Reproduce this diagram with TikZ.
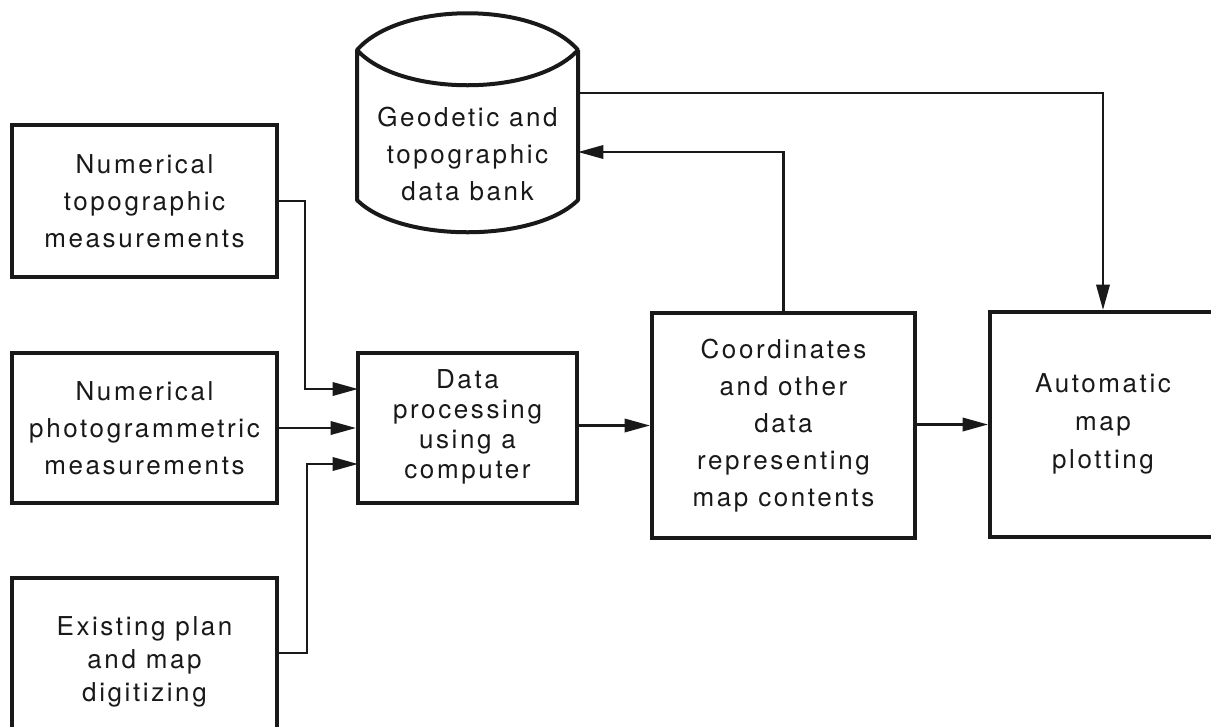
\documentclass[tikz,border=0pt]{standalone}
\usepackage{fontspec}
\setmainfont{TeX Gyre Heros}[LetterSpace=10]
\usetikzlibrary{arrows.meta}
\begin{document}
\begin{tikzpicture}[x=0.75pt,y=-0.75pt,
  boxline/.style={draw=black!90, line width=3pt},
  txt/.style={align=center, font=\fontsize{19.5pt}{27.75pt}\selectfont, text=black!90, inner sep=0pt},
  conn/.style={draw=black!90, line width=1.8pt},
  arr/.style={conn, -{Triangle[length=19pt,width=10pt]}},
]
\useasboundingbox (0,0) rectangle (1211,726);
\clip (0,0) rectangle (1211,726);
% boxes
\node[boxline, minimum width=198.75pt, minimum height=114pt] (b1) at (144.5,201) {};
\node[boxline, minimum width=198.75pt, minimum height=112.5pt] (b2) at (144.5,428) {};
\node[boxline, minimum width=198.75pt, minimum height=126pt] (b3) at (144.5,662) {};
\node[boxline, minimum width=164.25pt, minimum height=112.5pt] (dp) at (467.5,428) {};
\node[boxline, minimum width=197.25pt, minimum height=168.75pt] (co) at (783.5,425.5) {};
\node[boxline, minimum width=169.5pt, minimum height=168.75pt] (au) at (1103,424.5) {};
% cylinder
\draw[boxline, line join=round] (357,50) .. controls (400,1) and (535,1) .. (578,50)
  .. controls (535,97) and (400,97) .. (357,50) -- (357,200)
  .. controls (400,243) and (535,243) .. (578,200) -- (578,50);
% texts
\node[txt] (t1) at (144.5,201) {Numerical\\topographic\\measurements};
\node[txt] (t2) at (144.5,428) {Numerical\\photogrammetric\\measurements};
\node[txt, font=\fontsize{19.5pt}{25pt}\selectfont] (t3) at (144.5,662) {Existing plan\\and map\\digitizing};
\node[txt, font=\fontsize{19.5pt}{22.5pt}\selectfont] (tdp) at (467.5,427) {Data\\processing\\using a\\computer};
\node[txt] (tco) at (783.5,426) {Coordinates\\and other\\data\\representing\\map contents};
\node[txt, font=\fontsize{19.5pt}{28.5pt}\selectfont] (tau) at (1103,424) {Automatic\\map\\plotting};
\node[txt] (tdb) at (467.5,154) {Geodetic and\\topographic\\data bank};
% connector points
\coordinate (b3out) at (277,653);
\coordinate (dpin1) at (358,389);
\coordinate (dpin3) at (358,464);
\coordinate (bend1) at (305,0);
\coordinate (bend3) at (307,0);
\coordinate (dbin) at (578,152);
\coordinate (dbout) at (578,93);
% connectors
\draw[arr] (b1.east) -| (bend1 |- dpin1) -- (dpin1);
\draw[arr] (b2.east) -- (dp.west |- b2.east);
\draw[arr] (b3out) -| (bend3 |- dpin3) -- (dpin3);
\draw[arr] (dp.east |- co.west) -- (co.west);
\draw[arr] (co.east |- au.west) -- (au.west);
\draw[arr] (co.north) |- (dbin);
\draw[arr] (dbout) -| (au.north);
\end{tikzpicture}
\end{document}
